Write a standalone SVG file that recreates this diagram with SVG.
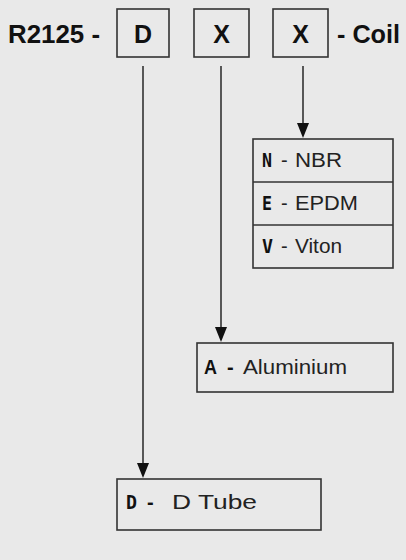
<svg xmlns="http://www.w3.org/2000/svg" width="406" height="560" viewBox="0 0 406 560">
<defs>
<style>
.bx{fill:none;stroke:#333;stroke-width:1.6}
.ln{stroke:#333;stroke-width:1.6;fill:none}
.hd{fill:#111}
.t{font-family:"Liberation Sans",Arial,sans-serif;fill:#222}
.tb{font-family:"Liberation Sans",Arial,sans-serif;font-weight:bold;fill:#111}
.b{font-family:"DejaVu Sans Mono","Liberation Mono",monospace;font-weight:bold;fill:#111}
</style>
</defs>
<rect width="406" height="560" fill="#e9e9e9"/>
<g id="title">
<text class="tb" x="8" y="43" font-size="25" textLength="92" lengthAdjust="spacingAndGlyphs">R2125 -</text>
<text class="tb" x="337" y="43" font-size="25" textLength="63" lengthAdjust="spacingAndGlyphs">- Coil</text>
</g>
<g id="box-d">
<rect class="bx" x="117" y="9" width="52" height="48"/>
<text class="tb" x="143" y="43" font-size="25" text-anchor="middle">D</text>
</g>
<g id="box-x1">
<rect class="bx" x="194" y="9" width="55" height="48"/>
<text class="tb" x="221.5" y="43" font-size="25" text-anchor="middle">X</text>
</g>
<g id="box-x2">
<rect class="bx" x="273" y="9" width="55" height="48"/>
<text class="tb" x="300.5" y="43" font-size="25" text-anchor="middle">X</text>
</g>
<g id="connectors">
<line class="ln" x1="143" y1="66" x2="143" y2="466"/>
<polygon class="hd" points="137,463 149,463 143,478"/>
<line class="ln" x1="221" y1="66" x2="221" y2="330"/>
<polygon class="hd" points="215,327 227,327 221,342"/>
<line class="ln" x1="303" y1="66" x2="303" y2="126"/>
<polygon class="hd" points="297,123 309,123 303,138"/>
</g>
<g id="seal-options">
<rect class="bx" x="253" y="139" width="140" height="129"/>
<line class="ln" x1="253" y1="182" x2="393" y2="182"/>
<line class="ln" x1="253" y1="225" x2="393" y2="225"/>
<text class="b" x="262" y="167" font-size="20" textLength="10" lengthAdjust="spacingAndGlyphs">N</text>
<text class="t" x="281" y="167" font-size="20">-</text>
<text class="t" x="295" y="167" font-size="20" textLength="47" lengthAdjust="spacingAndGlyphs">NBR</text>
<text class="b" x="262" y="210" font-size="20" textLength="10" lengthAdjust="spacingAndGlyphs">E</text>
<text class="t" x="281" y="210" font-size="20">-</text>
<text class="t" x="295" y="210" font-size="20" textLength="63" lengthAdjust="spacingAndGlyphs">EPDM</text>
<text class="b" x="262" y="253" font-size="20" textLength="11" lengthAdjust="spacingAndGlyphs">V</text>
<text class="t" x="281" y="253" font-size="20">-</text>
<text class="t" x="295" y="253" font-size="20" textLength="47" lengthAdjust="spacingAndGlyphs">Viton</text>
</g>
<g id="material">
<rect class="bx" x="197" y="343" width="196" height="49"/>
<text class="tb" x="204" y="374" font-size="20" textLength="13" lengthAdjust="spacingAndGlyphs">A</text>
<text class="tb" x="227" y="374" font-size="20">-</text>
<text class="t" x="243" y="374" font-size="20" textLength="104" lengthAdjust="spacingAndGlyphs">Aluminium</text>
</g>
<g id="tube">
<rect class="bx" x="117" y="479" width="204" height="51"/>
<text class="b" x="126" y="509" font-size="20" textLength="11" lengthAdjust="spacingAndGlyphs">D</text>
<text class="tb" x="147" y="509" font-size="20">-</text>
<text class="t" x="172" y="509" font-size="21" textLength="85" lengthAdjust="spacingAndGlyphs">D Tube</text>
</g>
</svg>
